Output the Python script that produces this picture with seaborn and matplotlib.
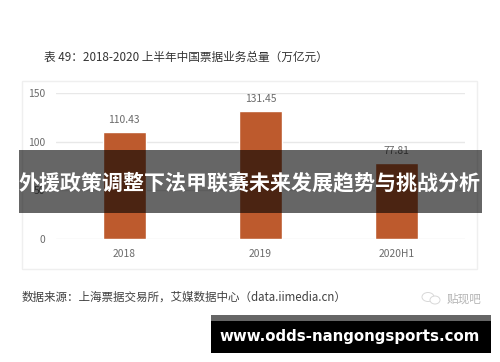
import matplotlib
matplotlib.use("Agg")
import matplotlib.pyplot as plt
import seaborn as sns
from matplotlib.patches import Ellipse, Rectangle

W, H = 500, 362

categories = ["2018", "2019", "2020H1"]
values = [110.43, 131.45, 77.81]
value_labels = ["110.43", "131.45", "77.81"]
y_ticks = [0, 50, 100, 150]

title = "表 49：2018-2020 上半年中国票据业务总量（万亿元）"
source = "数据来源：上海票据交易所，艾媒数据中心（data.iimedia.cn）"
banner = "外援政策调整下法甲联赛未来发展趋势与挑战分析"
watermark = "贴现吧"
site = "www.odds-nangongsports.com"

BAR = "#bd5a2d"
GRID = "#e8e8e8"
TEXT = "#6a6a6a"


def fx(px):
    return px / W


def fy(py):
    # pixel rows count from the top of the picture
    return 1 - py / H


def add_box(fig, x0, y0, x1, y1, **kwargs):
    fig.add_artist(
        Rectangle(
            (fx(x0), fy(y1)),
            (x1 - x0) / W,
            (y1 - y0) / H,
            transform=fig.transFigure,
            **kwargs,
        )
    )


def main():
    sns.set_theme(style="white")
    plt.rcParams["font.family"] = ["Noto Sans CJK SC", "DejaVu Sans"]

    fig = plt.figure(figsize=(W / 100, H / 100), dpi=100, facecolor="white")

    # Light frame round the chart
    add_box(fig, 21.5, 81, 477, 269, facecolor="white", edgecolor="#efefef", linewidth=1, zorder=-1)

    ax = fig.add_axes([fx(56.2), fy(239), 408.6 / W, (239 - 93.3) / H])
    ax.patch.set_alpha(0)
    sns.barplot(x=categories, y=values, color=BAR, saturation=1, width=0.316, gap=0, ax=ax, zorder=3)
    ax.set_ylim(0, 150)
    ax.set_yticks(y_ticks)
    ax.grid(axis="y", color=GRID, linewidth=1)
    ax.set_axisbelow(True)
    sns.despine(ax=ax, left=True, top=True, right=True, bottom=True)
    ax.tick_params(axis="both", length=0, labelsize=7.4, labelcolor=TEXT)
    ax.tick_params(axis="x", pad=7)
    ax.tick_params(axis="y", pad=8)

    ax.bar_label(ax.containers[0], labels=value_labels, padding=5, fontsize=7.4, color=TEXT)

    fig.text(fx(44.5), fy(57.5), title, fontsize=8.4, color="#333333", va="center")
    fig.text(fx(22), fy(297), source, fontsize=8.3, color="#404040", va="center")

    # Faint chat icon next to the watermark
    for cx, cy, w, h in [(428, 297, 12, 9), (435, 300, 10, 8)]:
        fig.add_artist(
            Ellipse(
                (fx(cx), fy(cy)),
                w / W,
                h / H,
                transform=fig.transFigure,
                facecolor="white",
                edgecolor="#d8d8d8",
                linewidth=0.7,
            )
        )
    fig.text(fx(447), fy(299), watermark, fontsize=8.4, color="#b5b5b5", va="center")

    # Banner across the chart
    add_box(fig, 19, 150, 482, 213, facecolor="black", alpha=0.6, linewidth=0, zorder=5)
    fig.text(
        fx(250), fy(184), banner, fontsize=15.1, fontweight="bold",
        color="white", ha="center", va="center", zorder=6,
    )

    # Site strip at the bottom
    add_box(fig, 211, 315, 491, 321, facecolor="#666666", linewidth=0, zorder=5)
    add_box(fig, 211, 321, 491, 353, facecolor="black", linewidth=0, zorder=5)
    fig.text(
        fx(350), fy(336.5), site, fontsize=10.8, fontweight="bold", family="DejaVu Sans",
        color="white", ha="center", va="center", zorder=6,
    )

    fig.savefig("out.png", dpi=100)
    plt.close(fig)


if __name__ == "__main__":
    main()
